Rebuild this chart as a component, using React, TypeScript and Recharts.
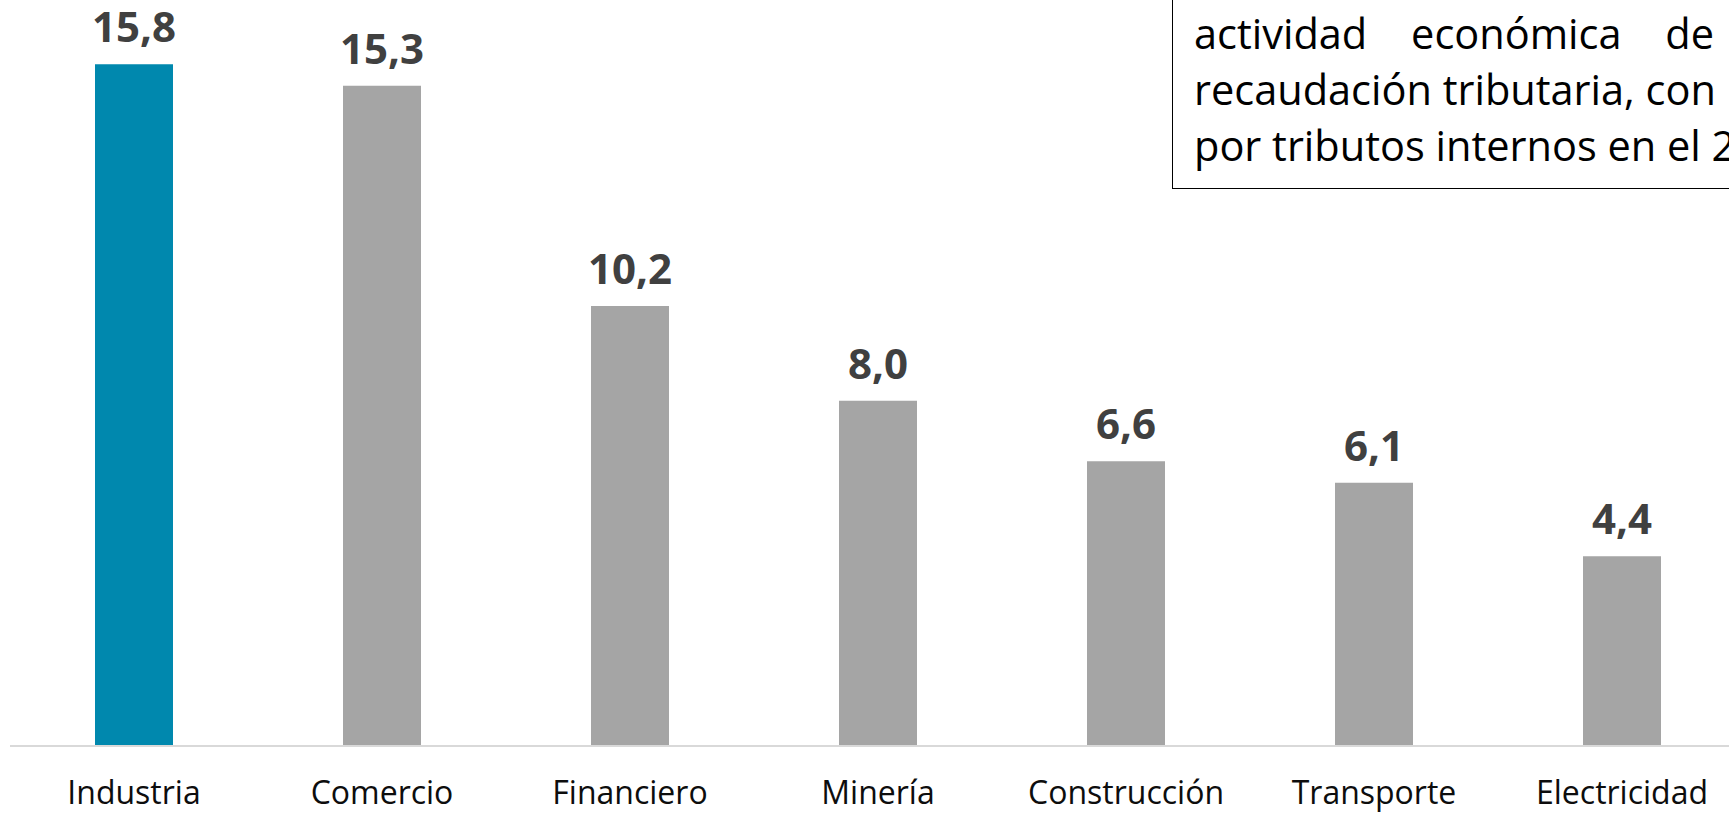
import { BarChart, Bar, XAxis, YAxis, Cell, LabelList } from "recharts";

const sectors = ["Industria", "Comercio", "Financiero", "Minería", "Construcción", "Transporte", "Electricidad"];
const shares = [15.8, 15.3, 10.2, 8.0, 6.6, 6.1, 4.4];
const highlight = "Industria";

const noteLine1 = ["actividad", "económica", "de"];
const noteLine2 = "recaudación tributaria, con";
const noteLine3 = "por tributos internos en el 2";

const data = sectors.map((name, i) => ({ name, value: shares[i] }));

const TEAL = "#0088AE";
const GREY = "#A5A5A5";
const FONT = "'Open Sans', 'Noto Sans', sans-serif";

const CategoryTick = ({ x, y, payload }: any) => (
  <text x={x} y={y} dy={58} textAnchor="middle" fill="#0d0d0d" fontSize={32} fontFamily={FONT}>
    {payload.value}
  </text>
);

const noteStyle = {
  position: "absolute" as const,
  left: 1194,
  fontSize: 41.5,
  lineHeight: "56px",
  color: "#000",
  whiteSpace: "nowrap" as const,
};

const App = () => {
  return (
    <div
      style={{
        position: "absolute",
        left: 0,
        top: 0,
        width: 1729,
        height: 814,
        overflow: "hidden",
        background: "#fff",
        fontFamily: FONT,
      }}
    >
      <BarChart width={1746} height={814} data={data} margin={{ top: 0, right: 0, left: 10, bottom: 0 }}>
        <XAxis
          dataKey="name"
          interval={0}
          height={68}
          tickLine={false}
          tickSize={0}
          tickMargin={0}
          axisLine={{ stroke: "#D9D9D9", strokeWidth: 2 }}
          tick={<CategoryTick />}
        />
        <YAxis hide width={0} domain={[0, 17.29]} />
        <Bar dataKey="value" barSize={78} isAnimationActive={false}>
          {data.map((d) => (
            <Cell key={d.name} fill={d.name === highlight ? TEAL : GREY} />
          ))}
          <LabelList
            dataKey="value"
            position="top"
            offset={22}
            formatter={(v: any) => Number(v).toFixed(1).replace(".", ",")}
            fill="#404040"
            fontSize={42}
            fontWeight={700}
            fontFamily={FONT}
          />
        </Bar>
      </BarChart>

      {/* annotation box, cut off at top and right like the source */}
      <div
        style={{
          position: "absolute",
          left: 1172,
          top: -10,
          width: 700,
          height: 199,
          border: "1.5px solid #000",
          boxSizing: "border-box",
        }}
      />
      <div style={{ ...noteStyle, top: 5, width: 520, display: "flex", justifyContent: "space-between" }}>
        {noteLine1.map((w) => (
          <span key={w}>{w}</span>
        ))}
      </div>
      <div style={{ ...noteStyle, top: 61 }}>{noteLine2}</div>
      <div style={{ ...noteStyle, top: 117 }}>{noteLine3}</div>
    </div>
  );
};

export default App;
